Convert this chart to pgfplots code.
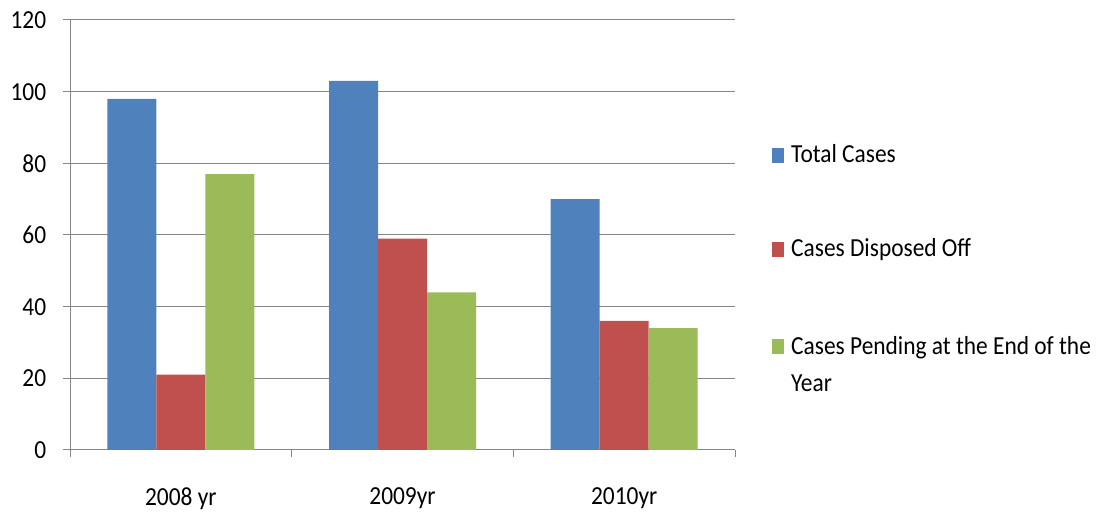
\documentclass[border=0pt]{standalone}
\usepackage{pgfplots}
\pgfplotsset{compat=1.18}
\usepackage{fontspec}
\setmainfont{Carlito}[FakeStretch=0.9]
\definecolor{cBlue}{HTML}{4F81BD}
\definecolor{cRed}{HTML}{C0504D}
\definecolor{cGreen}{HTML}{9BBB59}
\definecolor{axgray}{HTML}{868686}
\begin{document}
\fontsize{26}{31}\selectfont
\begin{tikzpicture}[x=1pt,y=1pt]
\useasboundingbox (0,0) rectangle (1108,516);
\begin{axis}[
  at={(70pt,66pt)}, anchor=south west,
  width=665pt, height=430pt, scale only axis,
  /pgf/number format/assume math mode=true,
  ybar=0pt, bar width=49pt,
  xmin=-0.5, xmax=2.5, ymin=0, ymax=120,
  ytick={0,20,...,120},
  xtick={-0.5,0.5,1.5,2.5}, xticklabels={},
  extra x ticks={0,1,2},
  extra x tick labels={2008 yr,2009yr,2010yr},
  extra x tick style={major tick length=0pt, grid=none,
     tick label style={yshift=-29pt}},
  axis x line*=bottom, axis y line*=left,
  axis line style={axgray, line width=1pt, -},
  ymajorgrids, grid style={axgray, line width=1pt},
  tick style={axgray, line width=1pt},
  tick align=outside, major tick length=7pt,
  y tick label style={xshift=-8pt},
  legend style={at={(1.0556,0.71)}, anchor=north west, draw=none, fill=none,
     inner sep=0pt, row sep=72pt, column sep=7pt,
     nodes={inner sep=0pt, anchor=base west}},
  legend cell align=left,
  legend image code/.code={\fill[#1,draw=none] (0pt,0pt) rectangle (12pt,15pt);},
]
\addplot[fill=cBlue, draw=none] coordinates {(0,98) (1,103) (2,70)};
\addlegendentry{Total Cases}
\addplot[fill=cRed, draw=none] coordinates {(0,21) (1,59) (2,36)};
\addlegendentry{Cases Disposed Off}
\addplot[fill=cGreen, draw=none] coordinates {(0,77) (1,44) (2,34)};
\addlegendentry{\begin{tabular}[t]{@{}l@{}}Cases Pending at the End of the\\[6pt]Year\end{tabular}}
\end{axis}
\end{tikzpicture}
\end{document}
